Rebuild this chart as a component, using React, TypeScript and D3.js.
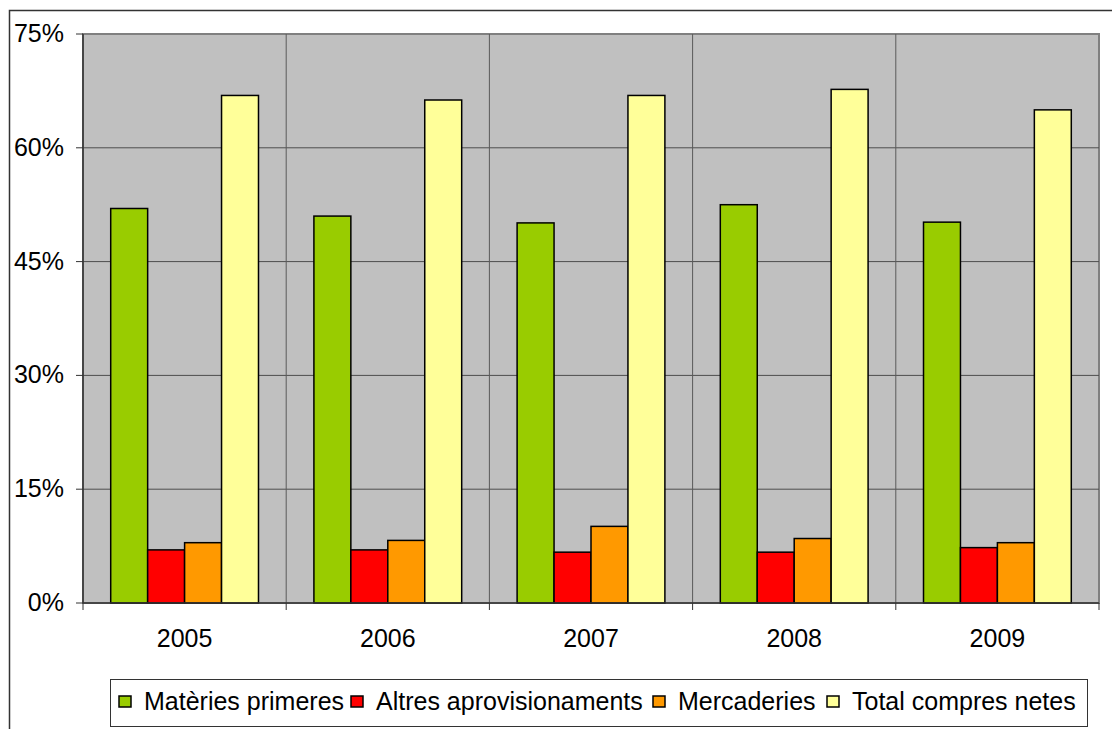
import React, { useRef, useEffect } from 'react'
import * as d3 from 'd3'

const years = ['2005', '2006', '2007', '2008', '2009']
const seriesNames = ['Matèries primeres', 'Altres aprovisionaments', 'Mercaderies', 'Total compres netes']
const seriesColors = ['#99CC00', '#FF0000', '#FF9900', '#FFFF99']

const materies = [52.0, 51.0, 50.1, 52.5, 50.2]
const altres = [7.0, 7.0, 6.7, 6.7, 7.3]
const mercaderies = [7.95, 8.25, 10.1, 8.5, 7.95]
const total = [66.9, 66.3, 66.9, 67.7, 65.0]

const yTicks = [0, 15, 30, 45, 60, 75]

export default function App() {
  const svgRef = useRef<SVGSVGElement>(null)

  useEffect(() => {
    if (!svgRef.current) return
    const svg = d3.select(svgRef.current)
    svg.selectAll('*').remove()

    const W = 1112, H = 729
    const plot = { left: 83, right: 1099, top: 34, bottom: 603 }
    const font = 'Arial, "Liberation Sans", sans-serif'
    const fs = 25

    // outer chart border (cut off at right and bottom)
    svg.append('rect')
      .attr('x', 9.5).attr('y', 10.5)
      .attr('width', W + 20).attr('height', H + 20)
      .attr('fill', '#fff').attr('stroke', '#333').attr('stroke-width', 1.5)

    const x0 = d3.scaleBand<string>()
      .domain(years)
      .range([plot.left, plot.right])
      .paddingInner(0).paddingOuter(0)

    const x1 = d3.scaleBand<number>()
      .domain(d3.range(seriesNames.length))
      .range([0, x0.bandwidth()])
      .paddingInner(0).paddingOuter(0.75)

    const y = d3.scaleLinear()
      .domain([0, 75])
      .range([plot.bottom, plot.top])

    // plot background
    svg.append('rect')
      .attr('x', plot.left).attr('y', plot.top)
      .attr('width', plot.right - plot.left).attr('height', plot.bottom - plot.top)
      .attr('fill', '#C0C0C0').attr('stroke', '#808080').attr('stroke-width', 2)

    // horizontal grid
    svg.append('g')
      .selectAll('line')
      .data(yTicks.filter(t => t > 0 && t < 75))
      .join('line')
      .attr('x1', plot.left).attr('x2', plot.right)
      .attr('y1', d => y(d)).attr('y2', d => y(d))
      .attr('stroke', '#4d4d4d').attr('stroke-width', 1)

    // vertical grid at category boundaries
    svg.append('g')
      .selectAll('line')
      .data(years.slice(1))
      .join('line')
      .attr('x1', d => x0(d)!).attr('x2', d => x0(d)!)
      .attr('y1', plot.top).attr('y2', plot.bottom)
      .attr('stroke', '#5a5a5a').attr('stroke-width', 1)

    const data = [materies, altres, mercaderies, total]

    // bars
    data.forEach((vals, si) => {
      svg.append('g')
        .selectAll('rect')
        .data(vals)
        .join('rect')
        .attr('x', (_, i) => x0(years[i])! + x1(si)!)
        .attr('y', d => y(d))
        .attr('width', x1.bandwidth())
        .attr('height', d => y(0) - y(d))
        .attr('fill', seriesColors[si])
        .attr('stroke', '#000').attr('stroke-width', 1.5)
    })

    // y axis
    svg.append('line')
      .attr('x1', plot.left).attr('x2', plot.left)
      .attr('y1', plot.top).attr('y2', plot.bottom)
      .attr('stroke', '#333').attr('stroke-width', 1.5)
    svg.append('g')
      .selectAll('line')
      .data(yTicks)
      .join('line')
      .attr('x1', plot.left - 7).attr('x2', plot.left)
      .attr('y1', d => y(d)).attr('y2', d => y(d))
      .attr('stroke', '#333')
    svg.append('g')
      .selectAll('text')
      .data(yTicks)
      .join('text')
      .attr('x', 64)
      .attr('y', d => y(d) + 8)
      .attr('text-anchor', 'end')
      .attr('font-family', font).attr('font-size', fs)
      .attr('fill', '#000')
      .text(d => `${d}%`)

    // x axis
    svg.append('line')
      .attr('x1', plot.left).attr('x2', plot.right)
      .attr('y1', plot.bottom).attr('y2', plot.bottom)
      .attr('stroke', '#333').attr('stroke-width', 1.5)
    svg.append('g')
      .selectAll('line')
      .data([...years.map(d => x0(d)!), plot.right])
      .join('line')
      .attr('x1', d => d).attr('x2', d => d)
      .attr('y1', plot.bottom).attr('y2', plot.bottom + 7)
      .attr('stroke', '#333')
    svg.append('g')
      .selectAll('text')
      .data(years)
      .join('text')
      .attr('x', d => x0(d)! + x0.bandwidth() / 2)
      .attr('y', 647)
      .attr('text-anchor', 'middle')
      .attr('font-family', font).attr('font-size', fs)
      .text(d => d)

    // legend
    const legend = svg.append('g')
    legend.append('rect')
      .attr('x', 110.5).attr('y', 679.5)
      .attr('width', 977).attr('height', 47)
      .attr('fill', '#fff').attr('stroke', '#333').attr('stroke-width', 1)
    const legendX = [119, 351, 653, 827]
    seriesNames.forEach((name, i) => {
      legend.append('rect')
        .attr('x', legendX[i]).attr('y', 696)
        .attr('width', 12).attr('height', 11)
        .attr('fill', seriesColors[i]).attr('stroke', '#000').attr('stroke-width', 1.5)
      legend.append('text')
        .attr('x', legendX[i] + 25).attr('y', 710)
        .attr('font-family', font).attr('font-size', fs)
        .text(name)
    })
  }, [])

  return (
    <svg ref={svgRef} width={1112} height={729}
      style={{ position: 'absolute', left: 0, top: 0, background: '#fff' }} />
  )
}
